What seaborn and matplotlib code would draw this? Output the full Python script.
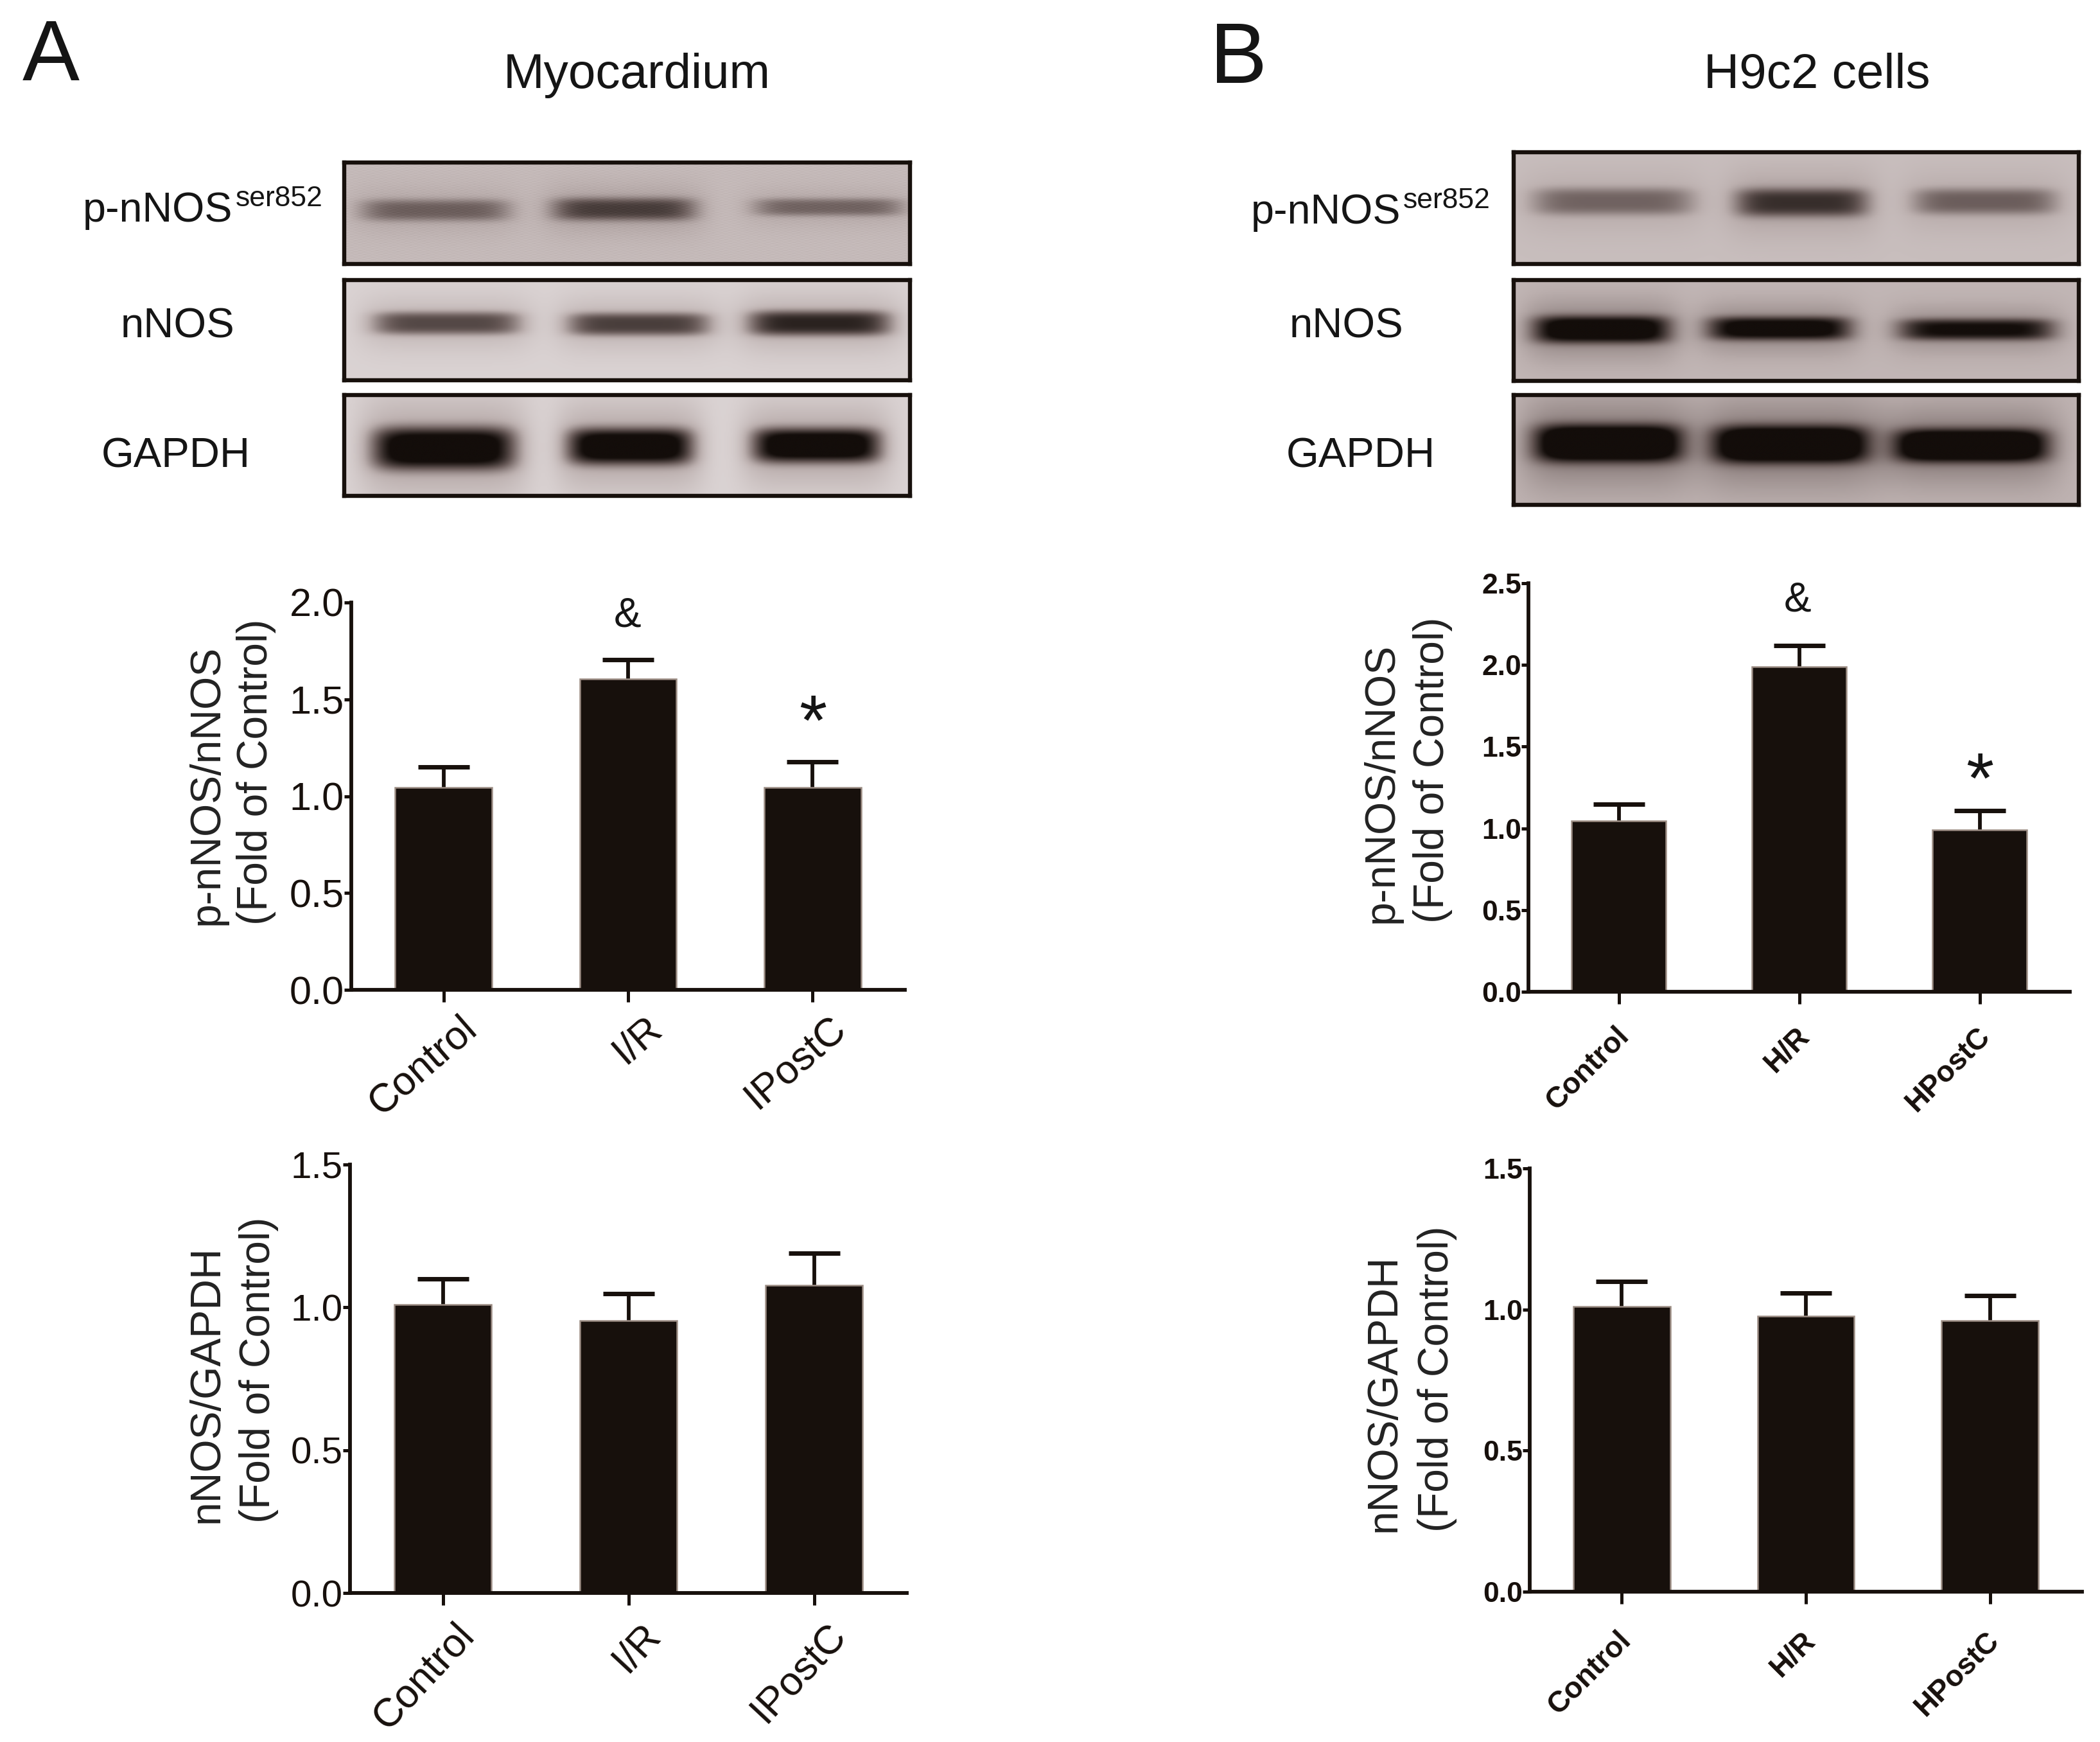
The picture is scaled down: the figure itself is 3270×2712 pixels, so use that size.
# plot.py
# Figure with two panels: western blots on top, bar charts of the band ratios below.

import numpy as np
import pandas as pd
import matplotlib
matplotlib.use("Agg")
import matplotlib.pyplot as plt
from matplotlib.colors import LinearSegmentedColormap
from matplotlib.transforms import ScaledTranslation
import seaborn as sns

# --- bar values ---
GROUPS_A = ['Control', 'I/R', 'IPostC']
GROUPS_B = ['Control', 'H/R', 'HPostC']

A_RATIO_MEAN = [1.045, 1.605, 1.045]
A_RATIO_TOP = [1.151, 1.705, 1.176]
A_TOTAL_MEAN = [1.009, 0.953, 1.078]
A_TOTAL_TOP = [1.099, 1.049, 1.190]

B_RATIO_MEAN = [1.046, 1.989, 0.991]
B_RATIO_TOP = [1.148, 2.120, 1.107]
B_TOTAL_MEAN = [1.011, 0.977, 0.960]
B_TOTAL_TOP = [1.100, 1.059, 1.050]

A_RATIO_TICKS = [0.0, 0.5, 1.0, 1.5, 2.0]
B_RATIO_TICKS = [0.0, 0.5, 1.0, 1.5, 2.0, 2.5]
TOTAL_TICKS = [0.0, 0.5, 1.0, 1.5]

# --- blot bands: lane centre, half width, row centre, half height, darkness ---
BLOT_A_PHOSPHO = [(0.16, 0.130, 0.47, 0.105, 0.38), (0.494, 0.125, 0.46, 0.110, 0.52), (0.856, 0.130, 0.44, 0.085, 0.36)]
BLOT_A_TOTAL = [(0.18, 0.130, 0.43, 0.115, 0.60), (0.52, 0.125, 0.44, 0.115, 0.64), (0.84, 0.125, 0.43, 0.125, 0.76)]
BLOT_A_GAPDH = [(0.175, 0.125, 0.53, 0.210, 1.00), (0.505, 0.110, 0.51, 0.180, 1.00), (0.835, 0.112, 0.50, 0.170, 1.00)]
BLOT_B_PHOSPHO = [(0.175, 0.140, 0.44, 0.120, 0.38), (0.51, 0.115, 0.45, 0.125, 0.60), (0.835, 0.125, 0.44, 0.115, 0.40)]
BLOT_B_TOTAL = [(0.155, 0.120, 0.49, 0.135, 0.85), (0.47, 0.125, 0.48, 0.115, 0.80), (0.82, 0.135, 0.49, 0.105, 0.72)]
BLOT_B_GAPDH = [(0.167, 0.130, 0.44, 0.170, 1.00), (0.49, 0.138, 0.45, 0.170, 1.00), (0.81, 0.135, 0.46, 0.150, 1.00)]

W, H = 3270, 2712
BLACK = '#17100c'
EDGE = '#9c8d84'

blot_cmap = LinearSegmentedColormap.from_list('blot', ['#130d0a', '#6a5c5a', '#bcb0af', '#f3eff0'])

sns.set_theme(style='ticks')
plt.rcParams['font.family'] = ['Liberation Sans', 'DejaVu Sans']

fig = plt.figure(figsize=(W / 100, H / 100), dpi=100, facecolor='white')


def add_axes_px(left, top, right, bottom):
    """Axes placed with pixel edges, measured from the top left of the picture."""
    return fig.add_axes([left / W, 1 - bottom / H, (right - left) / W, (bottom - top) / H])


def text_px(x, y, s, **kwargs):
    kwargs.setdefault('color', '#151515')
    fig.text(x / W, 1 - y / H, s, **kwargs)


def draw_blot(box, bands, background, speckle=0.0):
    ax = add_axes_px(*box)
    xx, yy = np.meshgrid(np.linspace(0, 1, 320), np.linspace(0, 1, 110))
    field = np.full(xx.shape, background, dtype=float)
    for cx, hw, cy, hh, dark in bands:
        halo = np.exp(-np.abs((xx - cx) / (hw * 1.18)) ** 6 - np.abs((yy - cy) / (hh * 2.3)) ** 2)
        core = np.exp(-np.abs((xx - cx) / hw) ** 6 - np.abs((yy - cy) / hh) ** 3.5)
        field -= 0.25 * dark * halo + 0.75 * dark * core
    if speckle:
        grain = np.sin(xx * 417) * np.sin(yy * 233) + np.sin((xx + yy) * 611) * np.cos((xx - yy) * 359)
        field += speckle * grain
    ax.imshow(np.clip(field, 0, 1), cmap=blot_cmap, vmin=0, vmax=1, aspect='auto',
              interpolation='bicubic', extent=(0, 1, 1, 0))
    ax.set_xticks([])
    ax.set_yticks([])
    ax.grid(False)
    for spine in ax.spines.values():
        spine.set_visible(True)
        spine.set_color(BLACK)
        spine.set_linewidth(4.6)


def draw_bars(box, groups, means, tops, ticks, tick_size, label_size, angle, shift=(0, 0), bold=False):
    ax = add_axes_px(*box)
    df = pd.DataFrame({'group': groups, 'value': means})
    sns.barplot(data=df, x='group', y='value', color=BLACK, saturation=1, width=0.525,
                edgecolor=EDGE, linewidth=1.8, ax=ax)
    means = np.array(means)
    upper = np.array(tops) - means
    # lower half of each error bar stays hidden behind its bar
    ax.errorbar(range(len(groups)), means, yerr=[upper * 0.6, upper], fmt='none',
                ecolor=BLACK, elinewidth=4.2, capsize=29, capthick=5, zorder=0.5)
    ax.set_xlim(-0.5, 2.5)
    ax.set_ylim(ticks[0], ticks[-1])
    ax.set_yticks(ticks)
    weight = 'bold' if bold else 'normal'
    ax.set_yticklabels([f'{t:.1f}' for t in ticks], fontsize=tick_size, color=BLACK, fontweight=weight)
    ax.set_xticks(range(len(groups)))
    ax.set_xticklabels(groups, fontsize=label_size, rotation=angle, ha='right', va='top',
                       rotation_mode='anchor', color=BLACK, fontweight=weight)
    ax.set_xlabel('')
    ax.set_ylabel('')
    ax.tick_params(axis='y', length=8, width=3.6, color=BLACK, pad=0)
    ax.tick_params(axis='x', length=14, width=3.6, color=BLACK, pad=14)
    # tick_params resets label transforms, so the shift has to come after it
    offset = ScaledTranslation(shift[0] / 100, shift[1] / 100, fig.dpi_scale_trans)
    for label in ax.get_xticklabels():
        label.set_transform(label.get_transform() + offset)
    sns.despine(ax=ax)
    for side in ('left', 'bottom'):
        ax.spines[side].set_color(BLACK)
        ax.spines[side].set_linewidth(4.2)
        ax.spines[side].set_capstyle('projecting')
    return ax


def y_title(x_first, x_second, bottom, first):
    text_px(x_first, bottom, first, rotation=90, ha='center', va='bottom', fontsize=47.5, color='#222222')
    text_px(x_second, bottom, '(Fold of Control)', rotation=90, ha='center', va='bottom', fontsize=47.5, color='#222222')


# Panel headers
text_px(35, 125, 'A', fontsize=96, va='baseline')
text_px(1884, 129, 'B', fontsize=96, va='baseline')
text_px(784, 137, 'Myocardium', fontsize=55, va='baseline')
text_px(2653, 137, 'H9c2 cells', fontsize=55, va='baseline')

# Blots
draw_blot((536, 253, 1417, 411), BLOT_A_PHOSPHO, 0.72, speckle=0.045)
draw_blot((536, 436, 1417, 592), BLOT_A_TOTAL, 0.85)
draw_blot((536, 615, 1417, 772), BLOT_A_GAPDH, 0.85)
draw_blot((2357, 237, 3237, 411), BLOT_B_PHOSPHO, 0.74)
draw_blot((2357, 436, 3237, 593), BLOT_B_TOTAL, 0.70)
draw_blot((2357, 615, 3237, 786), BLOT_B_GAPDH, 0.68)

# Blot labels
text_px(129, 345, 'p-nNOS', fontsize=46.5, va='baseline')
text_px(367, 321, 'ser852', fontsize=32, va='baseline')
text_px(188, 525, 'nNOS', fontsize=47, va='baseline')
text_px(158, 727, 'GAPDH', fontsize=47, va='baseline')
text_px(1948, 348, 'p-nNOS', fontsize=46.5, va='baseline')
text_px(2185, 324, 'ser852', fontsize=32, va='baseline')
text_px(2008, 525, 'nNOS', fontsize=47, va='baseline')
text_px(2003, 727, 'GAPDH', fontsize=47, va='baseline')

# Bar charts
draw_bars((547, 938, 1409, 1541), GROUPS_A, A_RATIO_MEAN, A_RATIO_TOP, A_RATIO_TICKS, 44, 45, 41, shift=(25, 9))
draw_bars((545, 1813, 1412, 2480), GROUPS_A, A_TOTAL_MEAN, A_TOTAL_TOP, TOTAL_TICKS, 42, 45, 47, shift=(18, 3))
draw_bars((2380, 908, 3223, 1544), GROUPS_B, B_RATIO_MEAN, B_RATIO_TOP, B_RATIO_TICKS, 32, 33, 45, shift=(-6, -8), bold=True)
draw_bars((2382, 1819, 3242, 2478), GROUPS_B, B_TOTAL_MEAN, B_TOTAL_TOP, TOTAL_TICKS, 32, 33, 45, shift=(-8, -15), bold=True)

y_title(323, 399, 1440, 'p-nNOS/nNOS')
y_title(323, 403, 2371, 'nNOS/GAPDH')
y_title(2152, 2231, 1437, 'p-nNOS/nNOS')
y_title(2156, 2238, 2385, 'nNOS/GAPDH')

# Significance marks
text_px(977, 975, '&', fontsize=46, ha='center', va='baseline')
text_px(1266, 1160, '*', fontsize=80, ha='center', va='baseline')
text_px(2799, 952, '&', fontsize=46, ha='center', va='baseline')
text_px(3083, 1250, '*', fontsize=80, ha='center', va='baseline')

fig.savefig('out.png', dpi=100, facecolor='white')
